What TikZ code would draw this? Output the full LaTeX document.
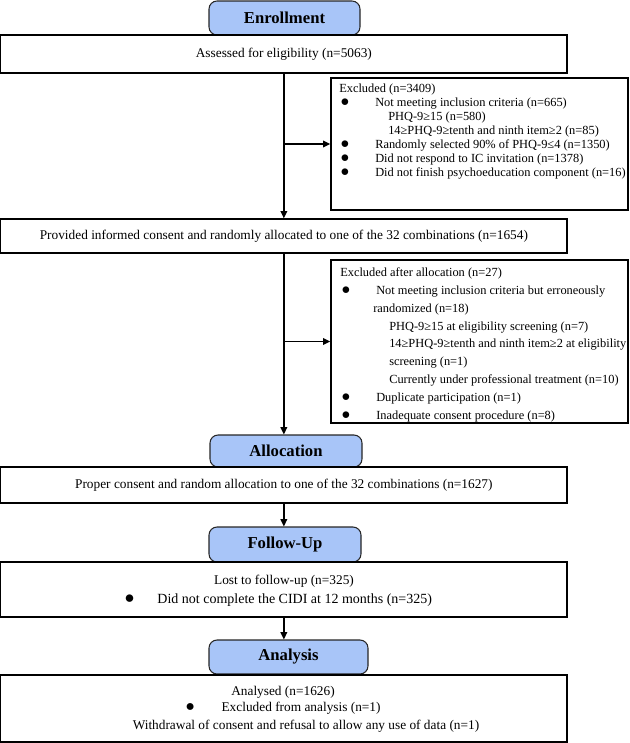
\documentclass[tikz,border=0pt]{standalone}
\usepackage{fontspec}
\setmainfont{Liberation Serif}
\usetikzlibrary{arrows.meta}
\definecolor{phaseblue}{RGB}{168,197,248}
\newcommand{\bul}[1]{{\fontsize{#1}{0}\selectfont●}}
\newcommand{\blt}{\makebox[27pt][l]{\hspace*{0.75pt}\bul{11.5}}}
\newcommand{\sbi}{\hspace*{36.75pt}}
\newcommand{\tightlines}{\lineskiplimit=-20pt\relax}

\begin{document}
\begin{tikzpicture}[x=0.75pt,y=-0.75pt,
	phase/.style={draw=black!85,line width=0.8pt,rounded corners=6pt,fill=phaseblue,
		font=\fontsize{12.5}{14}\selectfont\bfseries,minimum width=113.25pt,minimum height=25.5pt,inner sep=0pt},
	mainbox/.style={draw,line width=1pt,minimum width=424.7pt,inner sep=0pt,font=\fontsize{10}{12}\selectfont},
	exbox/.style={draw,line width=1pt,minimum width=222.75pt,inner sep=0pt},
	extext/.style={anchor=north west,inner sep=0pt,align=left},
	arr/.style={line width=1pt,-{Triangle[length=5.5pt,width=5pt]}}]
	\useasboundingbox (0,0) rectangle (629,743);
	% enrollment
	\node[phase] (enroll) at (284.5,18) {Enrollment};
	\node[mainbox,minimum height=28.5pt] (assess) at (283.85,54) {Assessed for eligibility (n=5063)};
	\node[exbox,minimum height=99pt] (ex1) at (479.5,144) {};
	\node[extext,font=\fontsize{9.3}{10.5}\selectfont\tightlines] (ex1txt) at (339,83.4) {Excluded (n=3409)\\
		\blt Not meeting inclusion criteria (n=665)\\
		\sbi PHQ-9≥15 (n=580)\\
		\sbi 14≥PHQ-9≥tenth and ninth item≥2 (n=85)\\
		\blt Randomly selected 90\% of PHQ-9≤4 (n=1350)\\
		\blt Did not respond to IC invitation (n=1378)\\
		\blt Did not finish psychoeducation component (n=16)};
	\node[mainbox,minimum height=25.5pt] (prov) at (283.85,236) {Provided informed consent and randomly allocated to one of the 32 combinations (n=1654)};
	\node[exbox,minimum height=122.25pt] (ex2) at (479.5,341.5) {};
	\node[extext,font=\fontsize{9.3}{13.4}\selectfont\tightlines] (ex2txt) at (340,267.5) {Excluded after allocation (n=27)\\
		\blt Not meeting inclusion criteria but erroneously\\
		\hspace*{24.75pt}randomized (n=18)\\
		\sbi PHQ-9≥15 at eligibility screening (n=7)\\
		\sbi 14≥PHQ-9≥tenth and ninth item≥2 at eligibility\\
		\sbi screening (n=1)\\
		\sbi Currently under professional treatment (n=10)\\
		\blt Duplicate participation (n=1)\\
		\blt Inadequate consent procedure (n=8)};
	% allocation
	\node[phase,minimum width=114pt,minimum height=24pt] (alloc) at (286,451) {Allocation};
	\node[mainbox,minimum height=27pt] (proper) at (283.85,485) {Proper consent and random allocation to one of the 32 combinations (n=1627)};
	% follow-up
	\node[phase,minimum width=114pt,minimum height=26.25pt] (follow) at (285,544.5) {Follow-Up};
	\node[mainbox,minimum height=41.25pt] (lost) at (283.85,589.5) {};
	\node[font=\fontsize{10}{12}\selectfont] (losttxt) at (284,581) {Lost to follow-up (n=325)};
	\node[anchor=west,inner sep=0pt,font=\fontsize{10.5}{12}\selectfont] (cidi) at (124,600) {\bul{13}\hspace{17pt}Did not complete the CIDI at 12 months (n=325)};
	% analysis
	\node[phase,minimum width=119.25pt] (analysis) at (288.5,657) {Analysis};
	\node[mainbox,minimum height=50.25pt] (analysed) at (283.85,708.5) {};
	\node[font=\fontsize{10}{12}\selectfont] (antxt) at (283,692) {Analysed (n=1626)};
	\node[anchor=west,inner sep=0pt,font=\fontsize{10}{12}\selectfont] (exan) at (185,708) {\bul{12}\hspace{20pt}Excluded from analysis (n=1)};
	\node[font=\fontsize{10}{12}\selectfont] (withdr) at (306,726) {Withdrawal of consent and refusal to allow any use of data (n=1)};
	% arrows
	\draw[arr] (assess.south) -- (prov.north);
	\draw[arr] (assess.south |- ex1.west) -- (ex1.west);
	\draw[arr] (prov.south) -- (prov.south |- alloc.north);
	\draw[arr] (prov.south |- ex2.west) -- (ex2.west);
	\draw[arr] (proper.south) -- (proper.south |- follow.north);
	\draw[arr] (lost.south) -- (lost.south |- analysis.north);
\end{tikzpicture}
\end{document}
